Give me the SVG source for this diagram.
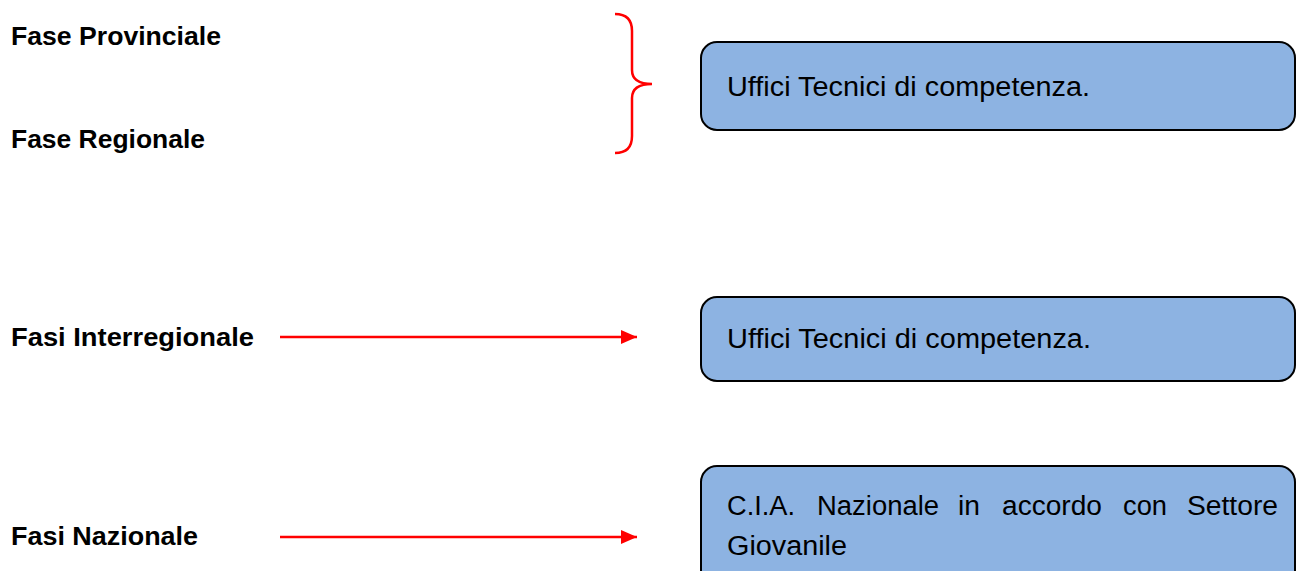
<svg xmlns="http://www.w3.org/2000/svg" width="1296" height="571" viewBox="0 0 1296 571">
<style>
.lbl{font-family:"Liberation Sans",Arial,sans-serif;font-weight:bold;font-size:25px;fill:#000}
.txt{font-family:"Liberation Sans",Arial,sans-serif;font-size:27px;fill:#000}
.box{fill:#8DB3E2;stroke:#000;stroke-width:2}
.conn{stroke:#FF0000;stroke-width:2.5;fill:none}
</style>
<defs>
<marker id="ah" viewBox="0 0 16 14" refX="16" refY="7" markerWidth="16" markerHeight="14" markerUnits="userSpaceOnUse" orient="auto">
<path d="M0,0 L16,7 L0,14 Z" fill="#FF0000"/>
</marker>
</defs>
<rect width="1296" height="571" fill="#fff"/>
<g id="label-provinciale"><text class="lbl" x="11" y="45" textLength="210" lengthAdjust="spacingAndGlyphs">Fase Provinciale</text></g>
<g id="label-regionale"><text class="lbl" x="11" y="148" textLength="194" lengthAdjust="spacingAndGlyphs">Fase Regionale</text></g>
<g id="label-interregionale"><text class="lbl" x="11" y="346" textLength="243" lengthAdjust="spacingAndGlyphs">Fasi Interregionale</text></g>
<g id="label-nazionale"><text class="lbl" x="11" y="545" textLength="187" lengthAdjust="spacingAndGlyphs">Fasi Nazionale</text></g>
<g id="box1">
<rect class="box" x="701" y="42" width="594" height="88" rx="16"/>
<text class="txt" x="727" y="96" textLength="363" lengthAdjust="spacingAndGlyphs">Uffici Tecnici di competenza.</text>
</g>
<g id="box2">
<rect class="box" x="701" y="297" width="594" height="84" rx="16"/>
<text class="txt" x="727" y="348" textLength="364" lengthAdjust="spacingAndGlyphs">Uffici Tecnici di competenza.</text>
</g>
<g id="box3">
<rect class="box" x="701" y="466" width="594" height="140" rx="16"/>
<text class="txt" x="727" y="515" textLength="68" lengthAdjust="spacingAndGlyphs">C.I.A.</text>
<text class="txt" x="817" y="515" textLength="122" lengthAdjust="spacingAndGlyphs">Nazionale</text>
<text class="txt" x="958" y="515" textLength="22" lengthAdjust="spacingAndGlyphs">in</text>
<text class="txt" x="1002" y="515" textLength="100" lengthAdjust="spacingAndGlyphs">accordo</text>
<text class="txt" x="1123" y="515" textLength="44" lengthAdjust="spacingAndGlyphs">con</text>
<text class="txt" x="1187" y="515" textLength="91" lengthAdjust="spacingAndGlyphs">Settore</text>
<text class="txt" x="727" y="555" textLength="120" lengthAdjust="spacingAndGlyphs">Giovanile</text>
</g>
<g id="connectors">
<path class="conn" d="M615,14 Q632,14 632,31 L632,70 Q632,84 652,84 Q632,84 632,98 L632,136 Q632,153 615,153" stroke-width="3.5"/>
<line class="conn" x1="280" y1="337" x2="637" y2="337" marker-end="url(#ah)"/>
<line class="conn" x1="280" y1="537" x2="637" y2="537" marker-end="url(#ah)"/>
</g>
</svg>
